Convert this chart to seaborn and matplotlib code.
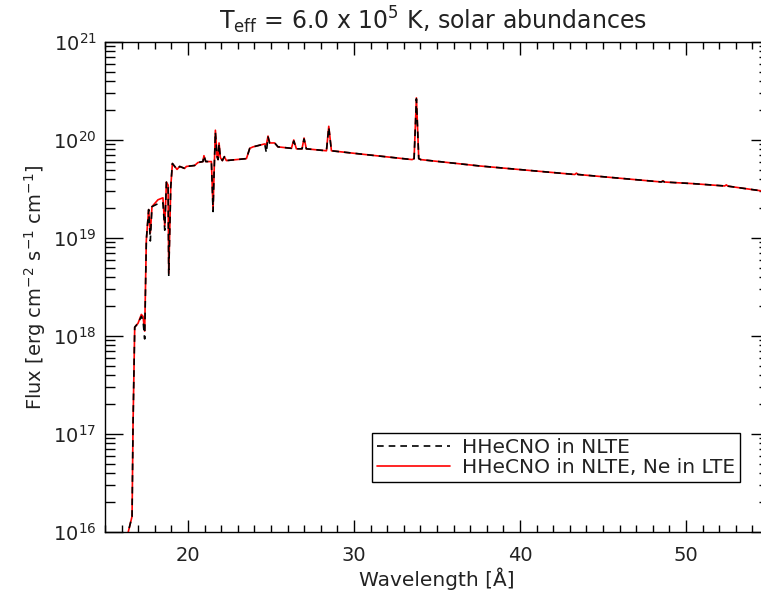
import numpy as np
import pandas as pd
import matplotlib
matplotlib.use('Agg')
import matplotlib.pyplot as plt
import seaborn as sns
from matplotlib.ticker import MultipleLocator, LogLocator, LogFormatterMathtext

# Wavelength grid [Angstrom] and log10 flux
wavelength = [16.20, 16.40, 16.63, 16.69, 16.79, 16.99, 17.19, 17.29, 17.39, 17.49,
              17.63, 17.73, 17.83, 18.19, 18.49, 18.60, 18.70, 18.80, 18.84, 18.96,
              19.06, 19.34, 19.50, 19.80, 19.90, 20.40, 20.60, 20.90, 20.96, 21.07,
              21.41, 21.51, 21.57, 21.65, 21.75, 21.81, 21.87, 21.95, 22.07, 22.19,
              22.31, 23.52, 23.72, 23.92, 24.62, 24.72, 24.82, 24.92, 25.22, 25.42,
              26.23, 26.37, 26.53, 26.87, 26.99, 27.13, 28.34, 28.48, 28.64, 30.50,
              33.50, 33.62, 33.76, 33.90, 34.02, 37.57, 43.30, 43.40, 43.50, 48.50,
              48.61, 48.72, 50.40, 52.33, 52.43, 52.53, 55.00]

log_flux_ne_lte = [15.0, 16.00, 16.16, 17.11, 18.09, 18.13, 18.22, 18.20, 18.05, 18.98,
                   19.29, 19.05, 19.32, 19.39, 19.41, 19.12, 19.57, 19.54, 18.64, 19.52,
                   19.76, 19.70, 19.73, 19.71, 19.73, 19.74, 19.77, 19.78, 19.84, 19.78,
                   19.78, 19.29, 19.66, 20.10, 19.83, 19.80, 19.97, 19.82, 19.79, 19.83,
                   19.79, 19.81, 19.915, 19.93, 19.96, 19.95, 20.04, 19.97, 19.97, 19.93,
                   19.915, 20.00, 19.91, 19.91, 20.02, 19.91, 19.89, 20.14, 19.89, 19.855,
                   19.80, 19.81, 20.43, 19.81, 19.80, 19.735, 19.648, 19.662, 19.648, 19.572,
                   19.584, 19.571, 19.555, 19.531, 19.542, 19.529, 19.47]

log_flux_nlte = [15.0, 16.00, 16.16, 17.11, 18.09, 18.13, 18.20, 18.16, 17.97, 18.98,
                 19.29, 18.97, 19.32, 19.35, 19.36, 19.08, 19.57, 19.54, 18.62, 19.52,
                 19.76, 19.70, 19.73, 19.71, 19.73, 19.74, 19.77, 19.78, 19.84, 19.78,
                 19.78, 19.27, 19.66, 20.08, 19.83, 19.80, 19.96, 19.82, 19.79, 19.83,
                 19.79, 19.81, 19.915, 19.93, 19.96, 19.87, 20.03, 19.97, 19.97, 19.93,
                 19.915, 19.99, 19.91, 19.91, 20.01, 19.91, 19.89, 20.13, 19.89, 19.855,
                 19.80, 19.81, 20.42, 19.81, 19.80, 19.735, 19.648, 19.655, 19.648, 19.572,
                 19.578, 19.571, 19.555, 19.531, 19.536, 19.529, 19.47]

label_nlte = 'HHeCNO in NLTE'
label_ne_lte = 'HHeCNO in NLTE, Ne in LTE'

df = pd.DataFrame({
    'wavelength': wavelength * 2,
    'flux': list(10.0 ** np.array(log_flux_nlte)) + list(10.0 ** np.array(log_flux_ne_lte)),
    'model': [label_nlte] * len(wavelength) + [label_ne_lte] * len(wavelength),
})

sns.set_style('ticks')
plt.rcParams['font.family'] = ['DejaVu Sans']
plt.rcParams['mathtext.fontset'] = 'dejavusans'

fig = plt.figure(figsize=(7.61, 5.97), dpi=100)
ax = fig.add_axes([105 / 761, 1 - 532 / 597, (769 - 105) / 761, (532 - 42) / 597])
ax.set_yscale('log')

# red first, black dashed on top
sns.lineplot(data=df[df['model'] == label_ne_lte], x='wavelength', y='flux',
             color='red', lw=1.2, estimator=None, sort=False, ax=ax,
             label=label_ne_lte, zorder=2)
sns.lineplot(data=df[df['model'] == label_nlte], x='wavelength', y='flux',
             color='black', lw=1.2, estimator=None, sort=False, ax=ax,
             label=label_nlte, zorder=3, dashes=False)
ax.lines[-1].set_linestyle((0, (4, 3)))

ax.set_xlim(15, 55)
ax.set_ylim(1e16, 1e21)
ax.xaxis.set_major_locator(MultipleLocator(10))
ax.xaxis.set_minor_locator(MultipleLocator(1))
ax.yaxis.set_major_locator(LogLocator(base=10, numticks=10))
ax.yaxis.set_minor_locator(LogLocator(base=10, subs=np.arange(2, 10), numticks=10))
ax.yaxis.set_major_formatter(LogFormatterMathtext())
ax.yaxis.set_minor_formatter(plt.NullFormatter())

ax.tick_params(axis='both', which='both', direction='in', top=True, right=True,
               width=1.0, color='black', labelsize=14, labelcolor='#222222')
ax.tick_params(axis='x', which='major', length=9, pad=10)
ax.tick_params(axis='x', which='minor', length=5)
ax.tick_params(axis='y', which='major', length=13, pad=6)
ax.tick_params(axis='y', which='minor', length=7)
for s in ax.spines.values():
    s.set_linewidth(1.0)
    s.set_color('black')

ax.set_title(r'T$_{\rm eff}$ = 6.0 x 10$^5$ K, solar abundances', fontsize=17,
             color='#222222', pad=9, x=(433 - 105) / (769 - 105))
ax.set_xlabel('Wavelength [Å]', fontsize=14.5, color='#222222', labelpad=2)
ax.set_ylabel(r'Flux [erg cm$^{-2}$ s$^{-1}$ cm$^{-1}$]', fontsize=14,
              color='#222222', labelpad=4)

handles, labels = ax.get_legend_handles_labels()
order = [labels.index(label_nlte), labels.index(label_ne_lte)]
leg = ax.legend([handles[i] for i in order], [labels[i] for i in order],
                loc='lower right', bbox_to_anchor=((740 - 105) / 664, (532 - 482) / 490),
                borderaxespad=0, fontsize=14.5, frameon=True, fancybox=False,
                edgecolor='black', framealpha=1, handlelength=3.6, borderpad=0.25,
                labelspacing=0.05, handletextpad=0.6)
leg.get_frame().set_linewidth(1.0)
for t in leg.get_texts():
    t.set_color('#222222')

fig.savefig('out.png', dpi=100)
plt.close(fig)
